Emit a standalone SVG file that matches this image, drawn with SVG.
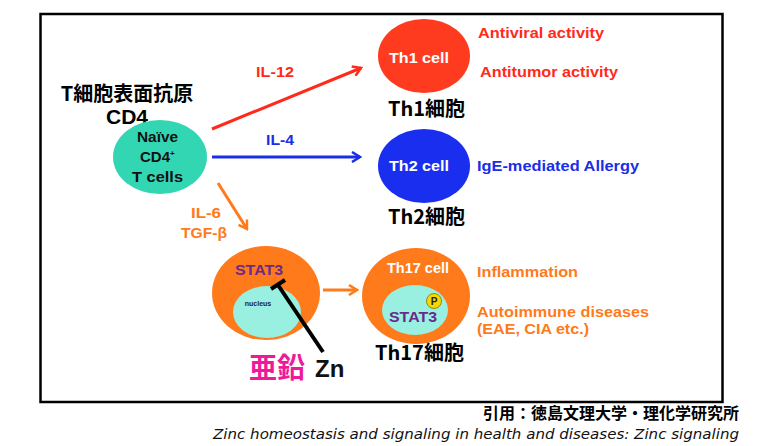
<svg xmlns="http://www.w3.org/2000/svg" width="760" height="446" viewBox="0 0 760 446">
<style>
.b{font-family:"Liberation Sans",Arial,sans-serif;font-weight:bold}
.jp{font-family:"Noto Sans CJK JP","Liberation Sans",sans-serif;font-weight:bold}
.w{fill:#fff}
.red{fill:#ff2a1a}
.blue{fill:#1a2ee8}
.or{fill:#ff7a1a}
.pu{fill:#6a2a8a}
</style>
<defs>
<marker id="hr" viewBox="0 0 12 12" refX="10" refY="6" markerWidth="12" markerHeight="12" markerUnits="userSpaceOnUse" orient="auto"><path d="M2,1 L10,6 L2,11" fill="none" stroke="#ff2a1a" stroke-width="2.5"/></marker>
<marker id="hb" viewBox="0 0 12 12" refX="10" refY="6" markerWidth="12" markerHeight="12" markerUnits="userSpaceOnUse" orient="auto"><path d="M2,1 L10,6 L2,11" fill="none" stroke="#1a2ee8" stroke-width="2.5"/></marker>
<marker id="ho" viewBox="0 0 12 12" refX="10" refY="6" markerWidth="12" markerHeight="12" markerUnits="userSpaceOnUse" orient="auto"><path d="M2,1 L10,6 L2,11" fill="none" stroke="#ff7a1a" stroke-width="2.5"/></marker>
</defs>
<rect x="0" y="0" width="760" height="446" fill="#fff"/>
<rect x="40.5" y="14" width="682" height="388" fill="none" stroke="#000" stroke-width="2.5"/>

<g id="connectors">
<line x1="212" y1="129" x2="361" y2="68" stroke="#ff2a1a" stroke-width="3" marker-end="url(#hr)"/>
<line x1="212" y1="157" x2="360" y2="157" stroke="#1a2ee8" stroke-width="3" marker-end="url(#hb)"/>
<line x1="218" y1="183" x2="247" y2="229" stroke="#ff7a1a" stroke-width="3" marker-end="url(#ho)"/>
<line x1="323" y1="290" x2="357" y2="290" stroke="#ff7a1a" stroke-width="3" marker-end="url(#ho)"/>
<text class="b red" x="256" y="77" font-size="14" textLength="38" lengthAdjust="spacingAndGlyphs">IL-12</text>
<text class="b blue" x="266" y="145" font-size="14" textLength="28" lengthAdjust="spacingAndGlyphs">IL-4</text>
<text class="b or" x="191" y="218" font-size="14" textLength="30" lengthAdjust="spacingAndGlyphs">IL-6</text>
<text class="b or" x="181" y="238" font-size="14" textLength="46" lengthAdjust="spacingAndGlyphs">TGF-β</text>
</g>

<g id="naive">
<text class="jp" x="127" y="101" font-size="20" text-anchor="middle" fill="#000">T細胞表面抗原</text>
<text class="b" x="127" y="124" font-size="21" text-anchor="middle" fill="#000">CD4</text>
<ellipse cx="160" cy="157" rx="47" ry="37" fill="#33d6b3"/>
<text class="b" x="137" y="142" font-size="15" fill="#111" textLength="41" lengthAdjust="spacingAndGlyphs">Naïve</text>
<text class="b" x="140" y="162" font-size="15" fill="#111">CD4<tspan font-size="8" dy="-6">+</tspan></text>
<text class="b" x="132" y="182" font-size="15" fill="#111" textLength="51" lengthAdjust="spacingAndGlyphs">T cells</text>
</g>

<g id="th1">
<ellipse cx="424" cy="56" rx="46" ry="37" fill="#ff3b1f"/>
<text class="b w" x="389" y="63" font-size="15" textLength="60" lengthAdjust="spacingAndGlyphs">Th1 cell</text>
<text class="b red" x="478" y="38" font-size="15" textLength="126" lengthAdjust="spacingAndGlyphs">Antiviral activity</text>
<text class="b red" x="480" y="77" font-size="15" textLength="138" lengthAdjust="spacingAndGlyphs">Antitumor activity</text>
<text class="jp" x="388" y="116" font-size="20" fill="#000">Th1細胞</text>
</g>

<g id="th2">
<ellipse cx="424" cy="166" rx="46" ry="37" fill="#1a2ef0"/>
<text class="b w" x="389" y="171" font-size="15" textLength="60" lengthAdjust="spacingAndGlyphs">Th2 cell</text>
<text class="b blue" x="477" y="171" font-size="15" textLength="162" lengthAdjust="spacingAndGlyphs">IgE-mediated Allergy</text>
<text class="jp" x="388" y="224" font-size="20" fill="#000">Th2細胞</text>
</g>

<g id="stat3">
<ellipse cx="266" cy="293" rx="54" ry="47" fill="#ff7a1a"/>
<ellipse cx="267" cy="312" rx="34" ry="26" fill="#99f0e0"/>
<text class="b pu" x="235" y="275" font-size="15" textLength="48" lengthAdjust="spacingAndGlyphs">STAT3</text>
<text class="b" x="258" y="306" font-size="7" text-anchor="middle" fill="#223">nucleus</text>
<line x1="323" y1="352" x2="278" y2="285" stroke="#000" stroke-width="4"/>
<line x1="271" y1="289" x2="285" y2="280" stroke="#000" stroke-width="4"/>
<text class="jp" x="249" y="378" font-size="28" fill="#ee1a9a">亜鉛</text>
<text class="b" x="315" y="377" font-size="24" fill="#111">Zn</text>
</g>

<g id="th17">
<ellipse cx="416" cy="296" rx="54" ry="48" fill="#ff7a1a"/>
<ellipse cx="415" cy="310" rx="33" ry="25" fill="#99f0e0"/>
<text class="b w" x="387" y="273" font-size="14" textLength="62" lengthAdjust="spacingAndGlyphs">Th17 cell</text>
<text class="b pu" x="389" y="322" font-size="15" textLength="48" lengthAdjust="spacingAndGlyphs">STAT3</text>
<circle cx="434" cy="301" r="7.5" fill="#f5d800" stroke="#8a7000" stroke-width="0.8"/>
<text class="b" x="434" y="305" font-size="10" text-anchor="middle" fill="#222">P</text>
<text class="b or" x="477" y="277" font-size="15" textLength="101" lengthAdjust="spacingAndGlyphs">Inflammation</text>
<text class="b or" x="477" y="317" font-size="15" textLength="172" lengthAdjust="spacingAndGlyphs">Autoimmune diseases</text>
<text class="b or" x="477" y="334" font-size="15" textLength="112" lengthAdjust="spacingAndGlyphs">(EAE, CIA etc.)</text>
<text class="jp" x="375" y="360" font-size="20" fill="#000">Th17細胞</text>
</g>

<g id="footer">
<text class="jp" x="739" y="419" font-size="16" text-anchor="end" fill="#000">引用：徳島文理大学・理化学研究所</text>
<text x="213" y="439" font-size="14.5" font-style="italic" font-family="DejaVu Sans, sans-serif" fill="#111" textLength="526" lengthAdjust="spacingAndGlyphs">Zinc homeostasis and signaling in health and diseases: Zinc signaling</text>
</g>
</svg>
